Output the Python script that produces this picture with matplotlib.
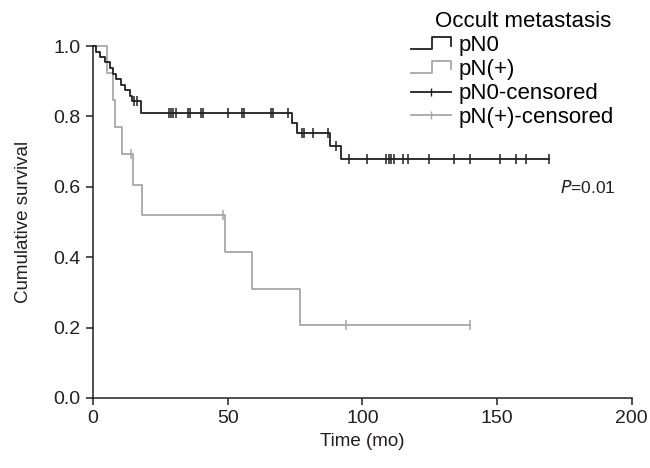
import matplotlib
matplotlib.use("Agg")
import matplotlib.pyplot as plt
import numpy as np
from matplotlib.lines import Line2D
from matplotlib.legend_handler import HandlerBase

plt.rcParams['font.family'] = ['Liberation Sans', 'DejaVu Sans']

# step times (mo) and survival after each step
pn0_times = [1.0, 2.5, 4.4, 6.2, 7.5, 8.5, 10.5, 11.8, 13.6, 14.6, 18.0, 73.9, 75.6, 88.0, 91.9]
pn0_surv = [0.984, 0.969, 0.954, 0.939, 0.922, 0.905, 0.889, 0.874, 0.859, 0.844, 0.811, 0.781, 0.753, 0.717, 0.680]
pn0_censor = [15.1, 16.4, 28.3, 29.0, 29.7, 31.0, 35.3, 36.1, 40.0, 40.8, 50.2, 55.4, 56.1,
              66.1, 66.8, 72.3, 77.5, 78.5, 81.5, 87.3, 90.1, 95.2, 101.9, 108.9, 109.8,
              110.7, 111.6, 115.0, 117.1, 124.9, 134.1, 139.8, 150.9, 156.9, 160.9, 169.1]
pn0_end = 169.1

pnp_times = [5.3, 7.3, 8.1, 10.9, 14.9, 18.1, 49.0, 59.2, 77.0]
pnp_surv = [0.923, 0.846, 0.769, 0.692, 0.606, 0.519, 0.415, 0.311, 0.208]
pnp_censor = [14.0, 48.3, 94.0, 139.8]
pnp_end = 139.8

legend_title = "Occult metastasis"
legend_labels = ["pN0", "pN(+)", "pN0-censored", "pN(+)-censored"]

BLACK = '#231f20'
GRAY = '#a7a7a7'


def step_xy(times, surv, end):
    x = [0] + list(times) + [end]
    y = [1.0] + list(surv) + [surv[-1]]
    return np.array(x), np.array(y)


def surv_at(times, surv, t):
    s = 1.0
    for ti, si in zip(times, surv):
        if ti <= t:
            s = si
    return s


class StepHandler(HandlerBase):
    def create_artists(self, legend, orig_handle, xdescent, ydescent,
                       width, height, fontsize, trans):
        x = np.array([0, 0.52, 0.52, 1.0, 1.0]) * width - xdescent
        y = np.array([0.0, 0.0, 1.0, 1.0, 0.3]) * height - ydescent
        ln = Line2D(x, y, color=orig_handle.get_color(), lw=orig_handle.get_linewidth())
        ln.set_transform(trans)
        return [ln]


fig = plt.figure(figsize=(6.5, 4.68), dpi=100)
ax = fig.add_axes([0.143, 0.1496, 0.829, 0.752])

x, y = step_xy(pn0_times, pn0_surv, pn0_end)
h_pn0, = ax.step(x, y, where='post', color=BLACK, lw=1.3, clip_on=False, zorder=3)
x, y = step_xy(pnp_times, pnp_surv, pnp_end)
h_pnp, = ax.step(x, y, where='post', color=GRAY, lw=1.3, clip_on=False, zorder=2)

cy = [surv_at(pn0_times, pn0_surv, t) for t in pn0_censor]
ax.plot(pn0_censor, cy, ls='none', marker='|', ms=7, mew=1.1, color=BLACK, zorder=4)
cy = [surv_at(pnp_times, pnp_surv, t) for t in pnp_censor]
ax.plot(pnp_censor, cy, ls='none', marker='|', ms=7, mew=1.1, color=GRAY, zorder=4)

h_c0 = Line2D([0, 1, 2], [0, 0, 0], color=BLACK, lw=1.3, marker='|', ms=6, mew=1.0, markevery=[1])
h_cp = Line2D([0, 1, 2], [0, 0, 0], color=GRAY, lw=1.3, marker='|', ms=6, mew=1.0, markevery=[1])

leg = fig.legend([h_pn0, h_pnp, h_c0, h_cp], legend_labels, title=legend_title,
                 handler_map={h_pn0: StepHandler(), h_pnp: StepHandler()},
                 loc='upper left', bbox_to_anchor=(411 / 650, 1 - 11 / 468),
                 bbox_transform=fig.transFigure, frameon=False,
                 fontsize=16, title_fontsize=16, handlelength=1.8, handleheight=0.5,
                 handletextpad=0.35, labelspacing=0.13, borderpad=0, borderaxespad=0)
leg._legend_box.align = 'left'
leg.get_title().set_position((24, 0))

ax.text(173.5, 0.583, r'$\it{P}$=0.01', fontsize=12.5, color=BLACK)

ax.set_xlim(0, 200)
ax.set_ylim(0, 1.0)
ax.set_xticks([0, 50, 100, 150, 200])
ax.set_yticks([0.0, 0.2, 0.4, 0.6, 0.8, 1.0])
ax.set_yticklabels(['0.0', '0.2', '0.4', '0.6', '0.8', '1.0'])
for s in ['top', 'right']:
    ax.spines[s].set_visible(False)
for s in ['left', 'bottom']:
    ax.spines[s].set_color(BLACK)
    ax.spines[s].set_linewidth(1.1)
ax.tick_params(direction='out', length=5, width=1.1, colors=BLACK, labelsize=14, pad=4)
ax.set_xlabel('Time (mo)', fontsize=13.5, color=BLACK, labelpad=4)
ax.set_ylabel('Cumulative survival', fontsize=13.5, color=BLACK)
ax.yaxis.set_label_coords(-0.113, 0.5)

fig.savefig('out.png', dpi=100)
